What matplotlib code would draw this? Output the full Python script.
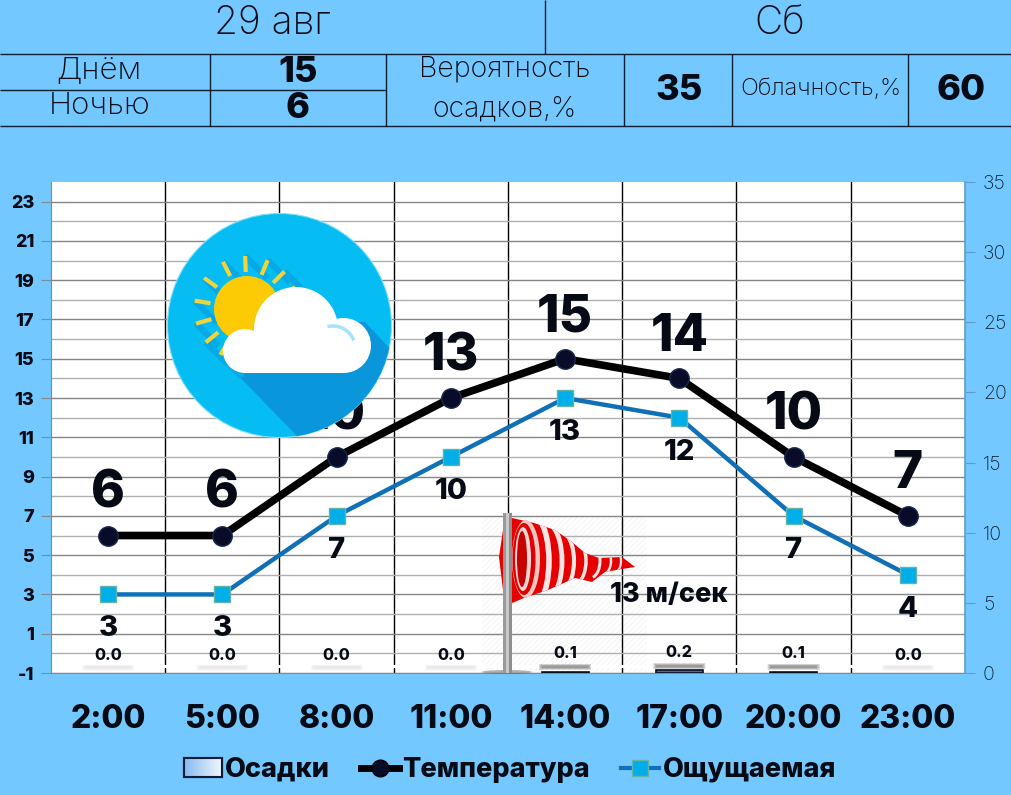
import numpy as np
import matplotlib as mpl
mpl.use('Agg')
import matplotlib.pyplot as plt
from matplotlib.patches import Arc, Circle, Ellipse, Polygon, Rectangle, Patch
from matplotlib.lines import Line2D

# data to plot
hours = ['2:00', '5:00', '8:00', '11:00', '14:00', '17:00', '20:00', '23:00']
temp = [6, 6, 10, 13, 15, 14, 10, 7]
feels = [3, 3, 7, 10, 13, 12, 7, 4]
precip = [0.0, 0.0, 0.0, 0.0, 0.1, 0.2, 0.1, 0.0]
left_ticks = [-1, 1, 3, 5, 7, 9, 11, 13, 15, 17, 19, 21, 23]
right_ticks = [0, 5, 10, 15, 20, 25, 30, 35]
wind_text = '13 м/сек'

BG = '#73c8ff'
LINE = '#0c1c33'
INK = '#050a14'
HEAVY = 800
W, H = 1012, 795
mpl.rcParams['font.family'] = ['Inter', 'DejaVu Sans']
mpl.rcParams['axes.unicode_minus'] = False

fig = plt.figure(figsize=(W / 100, H / 100), dpi=100, facecolor=BG)
ax = fig.add_axes([51 / W, 1 - 673 / H, 914 / W, 491 / H], facecolor='white')
index = np.arange(len(hours))

ax.set_xlim(-0.5, 7.5)
ax.set_ylim(-1, 24)
ax.set_yticks(left_ticks)
ax.set_yticks([t + 1 for t in left_ticks[:-1]], minor=True)
ax.set_xticks(index)
ax.set_xticks(index[:-1] + 0.5, minor=True)
ax.set_xticklabels(hours, fontsize=23, fontweight=HEAVY, color=INK)
ax.tick_params(axis='x', which='major', length=0, pad=22)
ax.tick_params(axis='x', which='minor', length=0)
ax.tick_params(axis='y', which='major', length=7, color='#808a95', labelsize=13, pad=5)
ax.tick_params(axis='y', which='minor', length=0)
for lab in ax.get_yticklabels():
    lab.set_fontweight(HEAVY)
    lab.set_color(INK)
ax.grid(True, axis='y', which='major', color='#858585', lw=1, zorder=1)
ax.grid(True, axis='y', which='minor', color='#b0b0b0', lw=1, zorder=1)
ax.grid(True, axis='x', which='minor', color='black', lw=1, zorder=1)
ax.grid(False, axis='x', which='major')
ax.set_axisbelow(True)
for s in ['top', 'right']:
    ax.spines[s].set_visible(False)
ax.spines['left'].set_color('#808a95')
ax.spines['bottom'].set_color('#808a95')
# vertical lines stop short of the axis for a few pixels
ax.axhspan(-0.76, -0.58, color='white', lw=0, zorder=1.5)

ax2 = ax.twinx()
ax2.set_ylim(0, 35)
ax2.set_yticks(right_ticks)
ax2.tick_params(axis='y', length=7, color='#5d9dc9', labelsize=14, labelcolor='#0f2436', pad=6)
for lab in ax2.get_yticklabels():
    lab.set_fontweight('light')
for s in ['top', 'left', 'bottom']:
    ax2.spines[s].set_visible(False)
ax2.spines['right'].set_color('#5d9dc9')
ax2.spines['right'].set_linewidth(1.2)

# soft shadow strip above each bar
for i, p in enumerate(precip):
    strength = 0.05 + 0.45 * min(p * 10, 1)
    for grow in np.linspace(0, 0.06, 12):
        ax2.bar(i, 0.46 - grow * 6, 0.46 - grow, bottom=0.16 + grow * 3 + p * 0.5,
                color='#6f6f6f', alpha=0.18 * strength, lw=0, zorder=2)
ax2.bar(index, precip, 0.41, color='#3f6fa8', edgecolor='#071020',
        linewidth=[1.2 if p > 0 else 0 for p in precip], zorder=3)
for i, p in enumerate(precip):
    ax2.text(i, p + 0.95, '%.1f' % p, ha='center', va='baseline', fontsize=11.5,
             fontweight=HEAVY, color=INK, zorder=6)

# both lines sit on the left axis scale, above the bars
ax.set_zorder(2)
ax2.set_zorder(3)
ax2.patch.set_visible(False)
top = fig.add_axes(ax.get_position(), facecolor='none', sharex=ax, sharey=ax, zorder=4)
top.axis('off')
top.plot(index, temp, color='black', lw=5.5, marker='o', ms=14, mfc='#080c28', mec='#1a2a4a',
         mew=1, solid_capstyle='round', zorder=5)
top.plot(index, feels, color='#0f70b7', lw=3.2, marker='s', ms=11.5, mfc='#00afe9', mec='#63b4a6',
         mew=1, zorder=4)
for i, v in enumerate(temp):
    top.annotate(str(v), (i, v), xytext=(0, 12), textcoords='offset points', ha='center',
                 va='bottom', fontsize=37, fontweight=HEAVY, color=INK, zorder=6)
for i, v in enumerate(feels):
    top.annotate(str(v), (i, v), xytext=(0, -15), textcoords='offset points', ha='center',
                 va='top', fontsize=21, fontweight=HEAVY, color=INK, zorder=6)

# everything else is laid out in pixels on a full figure overlay
ov = fig.add_axes([0, 0, 1, 1], facecolor='none', zorder=10)
ov.set_xlim(0, W)
ov.set_ylim(H, 0)
ov.set_autoscale_on(False)
ov.axis('off')

# header table
for x0, y0, x1, y1 in [(0, 54, W, 54), (0, 126, W, 126), (0, 90, 386, 90), (545, 0, 545, 54),
                       (210, 54, 210, 126), (386, 54, 386, 126), (624, 54, 624, 126),
                       (732, 54, 732, 126), (908, 54, 908, 126)]:
    ov.plot([x0, x1], [y0, y1], color=LINE, lw=1, solid_capstyle='butt')
cells = [(272, 24, '29 авг', 28, 'light'), (780, 24, 'Сб', 28, 'light'),
         (99, 71, 'Днём', 22.5, 'light'), (100, 106, 'Ночью', 22.5, 'light'),
         (298, 72, '15', 26, HEAVY), (298, 108, '6', 26, HEAVY),
         (505, 69, 'Вероятность', 20.5, 'light'), (505, 109, 'осадков,%', 20.5, 'light'),
         (679, 90, '35', 26, HEAVY), (821, 89, 'Облачность,%', 17, 'light'),
         (961, 90, '60', 26, HEAVY)]
for x, y, s, fs, w in cells:
    ov.text(x, y, s, ha='center', va='center', fontsize=fs, fontweight=w, color=INK)

# weather icon
disc = Circle((279.5, 325.5), 112, fc='#05bcf3', ec='#7fe0fa', lw=0.8, zorder=2)
ov.add_patch(disc)
shadow = Polygon([(225, 362), (297, 436), (400, 436), (396, 355), (365, 322), (290, 320)],
                 fc='#0a96db', ec='none', zorder=2.1)
ov.add_patch(shadow)
shadow.set_clip_path(disc)
ray_angles = [24, 45, 67, 92, 117, 144, 171, 196, 219, 240]
for ang in ray_angles:
    a = np.deg2rad(ang)
    x0, y0 = 247 + 37 * np.cos(a), 309 - 37 * np.sin(a)
    x1, y1 = 247 + 53 * np.cos(a), 309 - 53 * np.sin(a)
    ov.plot([x1, x1 + 22], [y1, y1 + 22], color='#07a8e6', lw=4.5, solid_capstyle='butt', zorder=2.2)
    ov.plot([x0, x1], [y0, y1], color='#f2d43a', lw=3, solid_capstyle='butt', zorder=2.3)
ov.add_patch(Circle((247, 309), 33, fc='#fccb05', ec='none', zorder=2.4))
for c, r in [((245, 351), 22), ((296, 329), 42), ((343.5, 345.5), 27.5)]:
    ov.add_patch(Circle(c, r, fc='white', ec='none', zorder=2.5))
ov.add_patch(Rectangle((245, 340), 99, 33, fc='white', ec='none', zorder=2.5))
t = np.linspace(np.deg2rad(25), np.deg2rad(100), 20)
ov.plot(338 + 22 * np.cos(t) - 5, 340 - 22 * np.sin(t) + 8, color='#a6e3fb', lw=2.5, zorder=2.6)

# windsock, the faint hatched square sits under the grid
ax.add_patch(Rectangle((482, 516), 165, 157, fc='none', ec='#f7f7f7', hatch='//////', lw=0,
                       zorder=0.5, transform=ov.transData))
sock_outline = [(512, 518), (534, 523), (555, 530), (572, 542), (585, 553), (599, 558), (622, 557),
                (635, 567), (622, 569), (605, 572), (592, 582), (575, 578), (548, 590), (524, 598),
                (512, 603), (503, 590), (499, 557), (503, 530)]
sock = Polygon(sock_outline, fc='#e60000', ec='none', zorder=3)
ov.add_patch(sock)
for cx, wd, ht, lw in [(532, 34, 92, 4), (546, 32, 76, 3.5), (560, 28, 60, 3), (574, 24, 46, 2.5),
                       (590, 20, 34, 2.2), (603, 16, 26, 1.8), (615, 12, 22, 1.6)]:
    ring = Arc((cx, 561), wd, ht, theta1=-80, theta2=80, ec='#f7e4e4', lw=lw, zorder=3.1)
    ov.add_patch(ring)
    ring.set_clip_path(sock)
for cx, wd, ht, col in [(526, 28, 78, '#f2c4c4'), (524, 23, 72, '#e00000'), (523, 16, 64, '#f0d6d6'),
                        (522, 10, 56, '#c80000')]:
    ov.add_patch(Ellipse((cx, 559), wd, ht, fc=col, ec='none', zorder=3.2))
ov.add_patch(Ellipse((507, 672), 50, 4, fc='#666666', ec='none', alpha=0.5, zorder=3.4))
for x0, wd, col in [(503.5, 3, '#9a9a9a'), (506.5, 3, '#c9c9c9'), (509.5, 3, '#8f8f8f')]:
    ov.add_patch(Rectangle((x0, 513), wd, 160, fc=col, ec='none', zorder=3.5))
ov.text(669, 595, wind_text, ha='center', va='center', fontsize=19.5, fontweight=HEAVY,
        color=INK, zorder=6)

# legend
handles = [Patch(fc='#c9e0fb', ec=LINE, lw=1.5),
           Line2D([], [], color='black', lw=5, marker='o', ms=12, mfc='#080c28'),
           Line2D([], [], color='#0f70b7', lw=3, marker='s', ms=11, mfc='#00afe9', mec='#63b4a6')]
leg = ov.legend(handles, ['Осадки', 'Температура', 'Ощущаемая'], ncol=3, frameon=False,
                loc='center', bbox_to_anchor=(510 / W, 1 - 770 / H),
                prop={'weight': HEAVY, 'size': 19.5}, handlelength=1.4, handletextpad=0.12,
                columnspacing=1.15, labelcolor=INK)

# gradient inside the bar swatch
fig.canvas.draw()
box = leg.legend_handles[0].get_window_extent().transformed(ov.transData.inverted())
x_lo, x_hi = sorted([box.x0, box.x1])
y_lo, y_hi = sorted([box.y0, box.y1])
grad = np.linspace(0, 1, 32).reshape(1, -1)
cmap = mpl.colors.LinearSegmentedColormap.from_list('swatch', ['#86bbf3', '#f0f6fe'])
ov.imshow(grad, cmap=cmap, aspect='auto', zorder=20, interpolation='bilinear',
          extent=[x_lo, x_hi, y_hi, y_lo])
ov.add_patch(Rectangle((x_lo, y_lo), x_hi - x_lo, y_hi - y_lo, fc='none', ec=LINE, lw=1.5, zorder=21))
ov.set_xlim(0, W)
ov.set_ylim(H, 0)

fig.savefig('out.png', dpi=100, facecolor=BG)
